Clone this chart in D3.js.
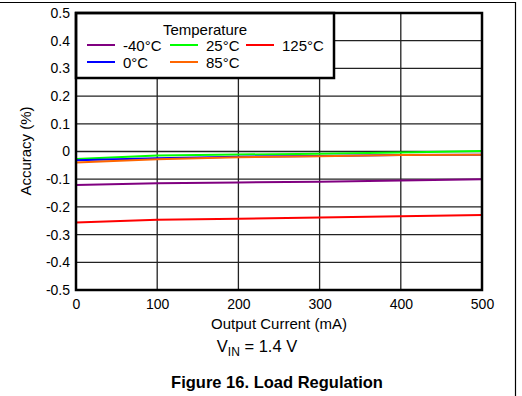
<!DOCTYPE html>
<html><head><meta charset="utf-8">
<script src="https://cdn.jsdelivr.net/npm/d3@7"></script>
<style>body{margin:0;background:#fff}svg{display:block;font-family:"Liberation Sans",Arial,sans-serif}</style>
</head><body><svg id="c" width="522" height="396"></svg>
<script>
const currents = [0, 100, 200, 300, 400, 500];
const seriesNames = ["-40°C", "0°C", "25°C", "85°C", "125°C"];
const seriesColors = ["#800080", "#0000ff", "#00ff00", "#ff6600", "#ff0000"];
const vMinus40 = [-0.121, -0.115, -0.112, -0.109, -0.105, -0.100];
const v0 = [-0.032, -0.024, -0.019, -0.016, -0.013, -0.012];
const v25 = [-0.027, -0.014, -0.011, -0.008, -0.004, 0.002];
const v85 = [-0.040, -0.028, -0.021, -0.017, -0.013, -0.012];
const v125 = [-0.256, -0.246, -0.243, -0.238, -0.234, -0.229];
const xTicks = [0, 100, 200, 300, 400, 500];
const yTicks = [0.5, 0.4, 0.3, 0.2, 0.1, 0, -0.1, -0.2, -0.3, -0.4, -0.5];
const yTickLabels = ["0.5","0.4","0.3","0.2","0.1","0","-0.1","-0.2","-0.3","-0.4","-0.5"];
const allSeries = [vMinus40, v0, v25, v85, v125];

const svg = d3.select("#c");
const L = 76, R = 482, T = 13, B = 290;
const x = d3.scaleLinear().domain([0, 500]).range([L, R]);
const y = d3.scaleLinear().domain([-0.5, 0.5]).range([B, T]);

// outer frame lines
svg.append("line").attr("x1",0).attr("x2",516).attr("y1",2.5).attr("y2",2.5).attr("stroke","#000").attr("stroke-width",1.2);
svg.append("line").attr("x1",515.5).attr("x2",515.5).attr("y1",2).attr("y2",396).attr("stroke","#000").attr("stroke-width",1.2);

// grid
const g = svg.append("g");
g.selectAll(".gx").data(xTicks.slice(1,-1)).join("line")
  .attr("x1", d=>x(d)).attr("x2", d=>x(d)).attr("y1", T).attr("y2", B)
  .attr("stroke","#222").attr("stroke-width",1.3);
g.selectAll(".gy").data(yTicks.slice(1,-1)).join("line")
  .attr("x1", L).attr("x2", R).attr("y1", d=>y(d)).attr("y2", d=>y(d))
  .attr("stroke","#222").attr("stroke-width",1.3);

// lines
const line = d3.line().x((d,i)=>x(currents[i])).y(d=>y(d));
const drawOrder = [4, 0, 2, 1, 3];
drawOrder.forEach(k=>{
  svg.append("path").datum(allSeries[k]).attr("d", line)
    .attr("fill","none").attr("stroke", seriesColors[k]).attr("stroke-width",2);
});

// legend box
const lg = svg.append("g");
lg.append("rect").attr("x", L).attr("y", T).attr("width", 334-L).attr("height", 78-T)
  .attr("fill","#fff").attr("stroke","#000").attr("stroke-width",2.5);
lg.append("text").attr("x",205).attr("y",35).attr("text-anchor","middle").attr("font-size",15).text("Temperature");
const legPos = [[87,45],[87,62],[170,45],[170,62],[246,45]];
seriesNames.forEach((n,i)=>{
  const [lx,ly] = legPos[i];
  lg.append("line").attr("x1",lx).attr("x2",lx+28).attr("y1",ly).attr("y2",ly)
    .attr("stroke",seriesColors[i]).attr("stroke-width",2);
  lg.append("text").attr("x",lx+36).attr("y",ly+5.5).attr("font-size",15).text(n);
});

// plot border
svg.append("rect").attr("x",L).attr("y",T).attr("width",R-L).attr("height",B-T)
  .attr("fill","none").attr("stroke","#000").attr("stroke-width",2.5);

// axes labels
const xAxis = d3.axisBottom(x).tickValues(xTicks).tickSize(0).tickPadding(9);
const xg = svg.append("g").attr("transform",`translate(0,${B})`).call(xAxis);
xg.select(".domain").remove();
xg.selectAll("text").attr("font-size",14).attr("fill","#000").attr("font-family","Liberation Sans, Arial, sans-serif");
const yAxis = d3.axisLeft(y).tickValues(yTicks).tickFormat((d,i)=>yTickLabels[i]).tickSize(0).tickPadding(6);
const yg = svg.append("g").attr("transform",`translate(${L},0)`).call(yAxis);
yg.select(".domain").remove();
yg.selectAll("text").attr("font-size",14).attr("fill","#000").attr("font-family","Liberation Sans, Arial, sans-serif");

svg.append("text").attr("x",279).attr("y",329).attr("text-anchor","middle").attr("font-size",15).text("Output Current (mA)");
svg.append("text").attr("transform","translate(31,151) rotate(-90)").attr("text-anchor","middle").attr("font-size",15).text("Accuracy (%)");
const vt = svg.append("text").attr("x",257).attr("y",352).attr("text-anchor","middle").attr("font-size",16.5);
vt.append("tspan").text("V");
vt.append("tspan").attr("font-size",12).attr("dy",4).text("IN");
vt.append("tspan").attr("dy",-4).text(" = 1.4 V");
svg.append("text").attr("x",277).attr("y",388).attr("text-anchor","middle").attr("font-size",16.5).attr("font-weight","bold").text("Figure 16. Load Regulation");
</script></body></html>
